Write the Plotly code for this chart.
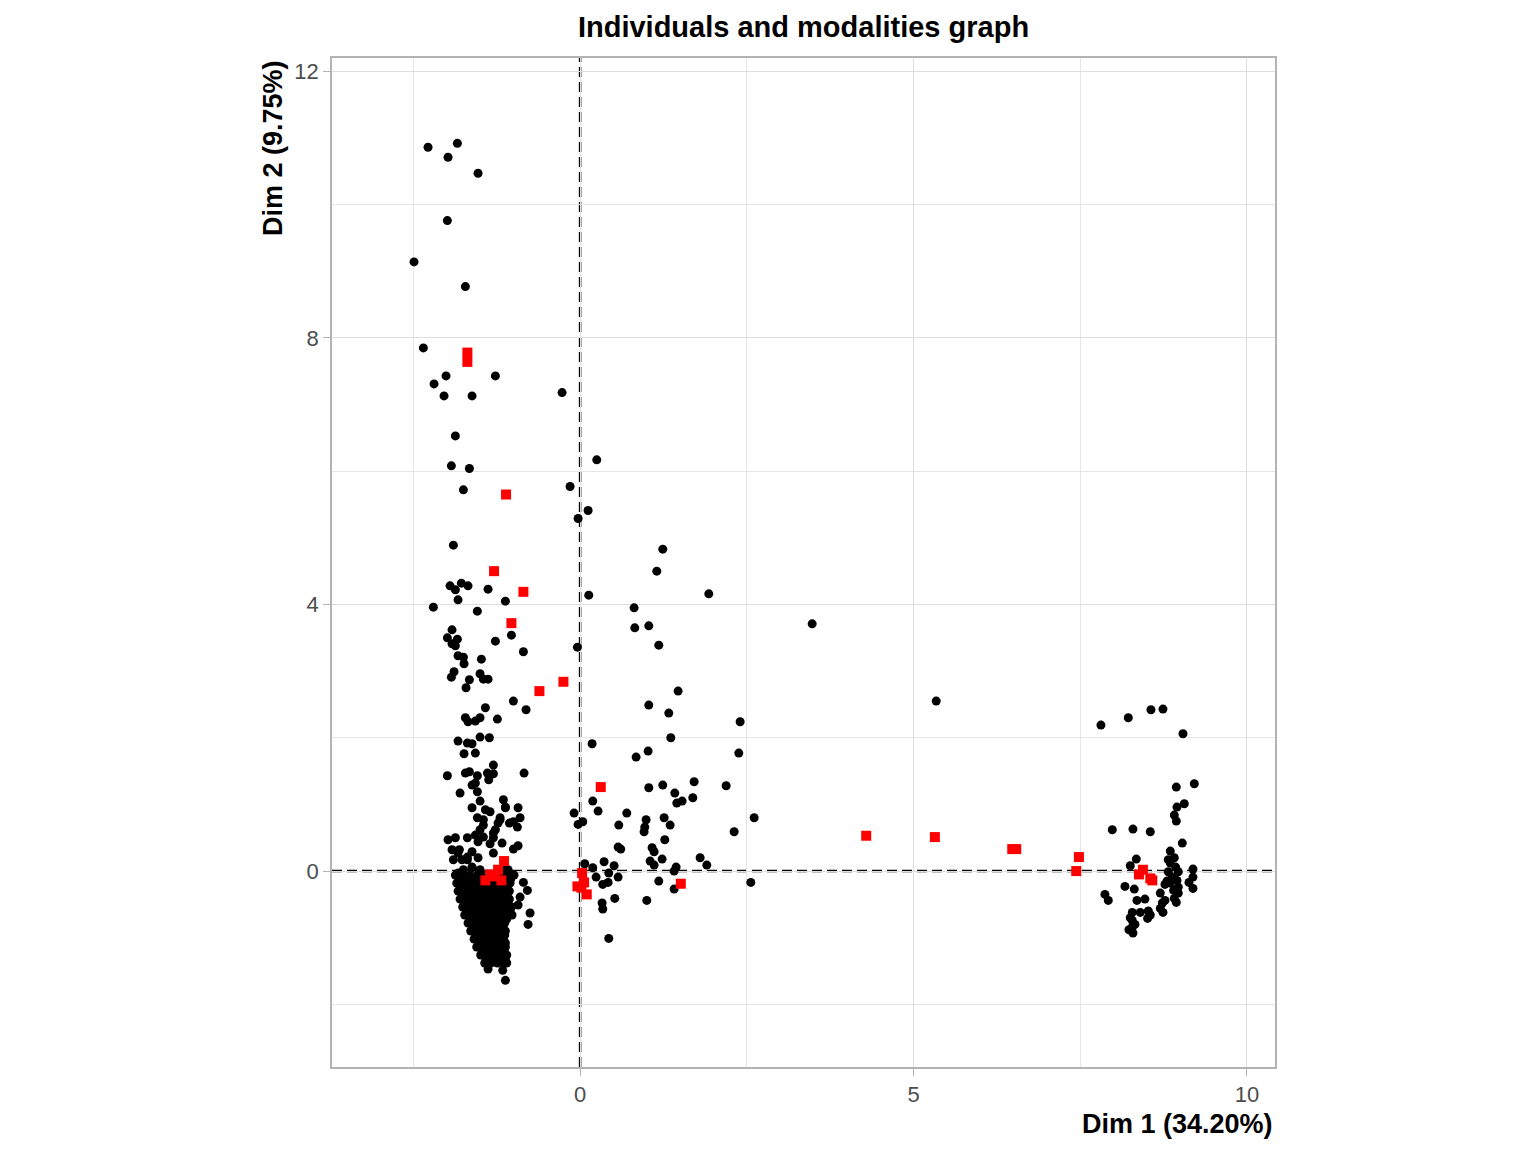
import plotly.graph_objects as go

# individuals, left group (upper part)
left_x = [-2.28, -1.84, -1.98, -1.53, -1.99, -2.49, -1.72, -2.35, -2.19, -2.01, -2.04, -1.62, -1.27,
          -1.87, -1.93, -1.66, -1.75, -1.90,
          -1.95, -1.87, -1.78, -1.68, -1.38, -1.83, -1.12, -2.20, -1.54, -1.92, -1.99, -1.84, -1.92,
          -1.87, -1.27, -1.03, -0.85, -1.83, -1.75, -1.74, -1.48, -1.89, -1.93, -1.66, -1.50, -1.45,
          -1.38, -1.71, -1.00, -0.81, -1.42, -1.72, -1.68, -1.57, -1.50, -1.24, -1.83, -1.69, -1.62,
          -1.50, -1.36, -1.74, -1.57, -1.30, -1.72, -1.66, -1.54, -1.39, -1.30, -1.99, -0.84,
          -1.62, -1.80, -1.54, -1.50, -1.15, -1.62, -1.42, -1.35, -1.12, -0.93, -1.54, -1.45, -1.27,
          -1.00, -0.94, -1.98, -1.87, -1.69, -1.53, -1.30, -1.17, -1.00, -0.93, -1.92, -1.83, -1.69,
          -1.62, -1.90, -1.77, -1.53, -1.83, -0.85, -0.79, -0.90, -0.93, -0.75, -0.78, -1.02, -1.12,
          -1.57, -1.37, -1.12, -1.45, -0.90, -1.20, -1.20, -1.06, -1.23, -1.50, -1.30, -1.57,
          -1.45, -1.35, -1.81, -1.30, -1.69, -1.62, -1.10, -1.75, -1.62, -1.50, -1.11, -1.08]
left_y = [10.86, 10.92, 10.71, 10.47, 9.76, 9.14, 8.77, 7.85, 7.31, 7.43, 7.13, 7.13, 7.43,
          6.53, 6.08, 6.04, 5.72, 4.89,
          4.28, 4.22, 4.32, 4.28, 4.23, 4.07, 4.05, 3.96, 3.90, 3.62, 3.50, 3.48, 3.41,
          3.38, 3.45, 3.54, 3.29, 3.23, 3.21, 3.11, 3.18, 2.99, 2.91, 2.87, 2.96, 2.88,
          2.88, 2.75, 2.55, 2.42, 2.45, 2.30, 2.24, 2.25, 2.30, 2.28, 1.95, 1.92, 1.91,
          2.01, 2.00, 1.76, 1.77, 1.59, 1.47, 1.49, 1.43, 1.47, 1.46, 1.43, 1.47,
          1.29, 1.17, 1.19, 1.05, 1.07, 0.95, 0.92, 0.89, 0.95, 0.95, 0.80, 0.69, 0.62,
          0.74, 0.66, 0.47, 0.50, 0.50, 0.44, 0.50, 0.42, 0.33, 0.38, 0.32, 0.27, 0.21,
          0.29, 0.17, 0.17, 0.20, -0.03, -0.17, -0.29, -0.39, -0.51, -0.63, -0.80, -0.66, -1.64,
          1.32, 1.37, 0.96, 0.77, 0.80, 0.80, 0.77, 0.72, 0.72, 0.62, 0.57, 0.54,
          0.51, 0.41, 0.32, 0.27, 0.17, 0.06, 0.02, 0.02, 0.05, 0.02, 0.02, 0.02]

# individuals, left group (dense lower part)
blob_x = [-1.87, -1.76, -1.65, -1.54, -1.43, -1.32, -1.21, -1.10, -0.99,
          -1.81, -1.70, -1.59, -1.48, -1.37, -1.26, -1.15, -1.04,
          -1.85, -1.74, -1.63, -1.52, -1.41, -1.30, -1.19, -1.05,
          -1.79, -1.68, -1.57, -1.46, -1.35, -1.24, -1.13,
          -1.83, -1.72, -1.61, -1.50, -1.39, -1.28, -1.17, -1.06,
          -1.77, -1.66, -1.55, -1.44, -1.33, -1.22, -1.11,
          -1.80, -1.69, -1.58, -1.47, -1.36, -1.25, -1.14, -1.06,
          -1.73, -1.62, -1.51, -1.40, -1.29, -1.18, -1.08,
          -1.76, -1.65, -1.54, -1.43, -1.32, -1.21, -1.10, -1.03,
          -1.70, -1.59, -1.48, -1.37, -1.26, -1.15, -1.05,
          -1.73, -1.62, -1.51, -1.40, -1.29, -1.18, -1.06,
          -1.65, -1.54, -1.43, -1.32, -1.21, -1.10,
          -1.68, -1.57, -1.46, -1.35, -1.24, -1.13,
          -1.61, -1.50, -1.39, -1.28, -1.17,
          -1.64, -1.53, -1.42, -1.31, -1.20, -1.12,
          -1.56, -1.45, -1.34, -1.23, -1.13,
          -1.59, -1.48, -1.37, -1.26, -1.15,
          -1.52, -1.41, -1.30, -1.19, -1.12,
          -1.55, -1.44, -1.33, -1.22, -1.12,
          -1.47, -1.36, -1.25, -1.14,
          -1.49, -1.39, -1.29, -1.19, -1.10,
          -1.41, -1.31, -1.21, -1.12,
          -1.43, -1.34, -1.24, -1.14, -1.10,
          -1.38, -1.16]
blob_y = [-0.06, -0.06, -0.06, -0.06, -0.06, -0.06, -0.06, -0.06, -0.06,
          -0.12, -0.12, -0.12, -0.12, -0.12, -0.12, -0.12, -0.12,
          -0.18, -0.18, -0.18, -0.18, -0.18, -0.18, -0.18, -0.18,
          -0.24, -0.24, -0.24, -0.24, -0.24, -0.24, -0.24,
          -0.30, -0.30, -0.30, -0.30, -0.30, -0.30, -0.30, -0.30,
          -0.36, -0.36, -0.36, -0.36, -0.36, -0.36, -0.36,
          -0.42, -0.42, -0.42, -0.42, -0.42, -0.42, -0.42, -0.42,
          -0.48, -0.48, -0.48, -0.48, -0.48, -0.48, -0.48,
          -0.54, -0.54, -0.54, -0.54, -0.54, -0.54, -0.54, -0.54,
          -0.60, -0.60, -0.60, -0.60, -0.60, -0.60, -0.60,
          -0.66, -0.66, -0.66, -0.66, -0.66, -0.66, -0.66,
          -0.72, -0.72, -0.72, -0.72, -0.72, -0.72,
          -0.78, -0.78, -0.78, -0.78, -0.78, -0.78,
          -0.84, -0.84, -0.84, -0.84, -0.84,
          -0.90, -0.90, -0.90, -0.90, -0.90, -0.90,
          -0.96, -0.96, -0.96, -0.96, -0.96,
          -1.02, -1.02, -1.02, -1.02, -1.02,
          -1.08, -1.08, -1.08, -1.08, -1.08,
          -1.14, -1.14, -1.14, -1.14, -1.14,
          -1.20, -1.20, -1.20, -1.20,
          -1.26, -1.26, -1.26, -1.26, -1.26,
          -1.32, -1.32, -1.32, -1.32,
          -1.38, -1.38, -1.38, -1.38, -1.38,
          -1.47, -1.49]

# individuals, middle group
mid_x = [-0.27, -0.15, 0.25, 0.12, -0.03, 1.24, 1.15, 0.13, 1.93, 0.81, 0.82, 1.03, -0.04, 1.18,
         1.47, 1.03, 1.33, 2.40, 1.36, 0.18, 1.02, 0.84, 2.38, 1.71, 2.19, 1.03, 1.24, 1.42,
         1.45, 1.53, 1.69, 0.19, 0.27, -0.09, 0.70, -0.03, 0.04, 2.61, 0.99, 0.97, 0.96, 1.26,
         1.35, 0.58, 2.31, 1.27, 0.57, 0.61, 1.08, 1.11, 1.80, 1.90, 1.23, 1.05, 1.11, 1.44,
         1.41, 0.36, 0.51, 0.07, 0.19, 0.24, 0.43, 0.57, 0.42, 0.34, 1.18, 1.41, 2.56, 0.52,
         1.00, 0.33, 0.34, 0.43, 3.48, 5.34]
mid_y = [7.18, 5.77, 6.17, 5.41, 5.29, 4.83, 4.50, 4.14, 4.16, 3.95, 3.65, 3.68, 3.36, 3.39,
         2.70, 2.49, 2.37, 2.24, 2.00, 1.91, 1.80, 1.71, 1.77, 1.34, 1.28, 1.25, 1.29, 1.17,
         1.02, 1.05, 1.10, 1.05, 0.90, 0.87, 0.87, 0.70, 0.74, 0.80, 0.77, 0.66, 0.59, 0.80,
         0.69, 0.69, 0.59, 0.47, 0.36, 0.33, 0.35, 0.29, 0.20, 0.09, 0.18, 0.15, 0.09, 0.06,
         0.00, 0.14, 0.08, 0.11, 0.05, -0.09, -0.03, -0.09, -0.17, -0.20, -0.15, -0.27, -0.17, -0.41,
         -0.44, -0.48, -0.57, -1.01, 3.71, 2.55]

# individuals, right group
right_x = [7.81, 8.22, 8.56, 8.74, 9.04, 9.21, 8.94, 9.06, 8.95, 8.91, 8.94, 7.98, 8.29, 8.55,
           9.03, 8.34, 8.25, 8.85, 8.91, 8.82, 8.85, 8.93, 8.82, 8.97, 8.88, 8.95, 8.85, 8.97,
           8.90, 8.97, 8.91, 8.94, 8.80, 8.77, 9.19, 9.19, 9.13, 9.19, 8.17, 8.31, 7.87, 7.92,
           8.35, 8.47, 8.70, 8.73, 8.77, 8.70, 8.74, 8.28, 8.40, 8.52, 8.51, 8.28, 8.28, 8.29,
           8.23, 8.25, 8.32, 8.55]
right_y = [2.19, 2.30, 2.42, 2.43, 2.06, 1.31, 1.26, 1.01, 0.96, 0.84, 0.75, 0.62, 0.63, 0.59,
           0.42, 0.18, 0.08, 0.30, 0.20, 0.17, 0.12, 0.06, -0.01, -0.01, -0.09, -0.14, -0.18, -0.24,
           -0.29, -0.33, -0.41, -0.47, -0.15, -0.20, 0.03, -0.09, -0.17, -0.26, -0.23, -0.27, -0.35, -0.44,
           -0.44, -0.42, -0.33, -0.48, -0.44, -0.56, -0.62, -0.62, -0.62, -0.60, -0.71, -0.74, -0.84, -0.93,
           -0.88, -0.70, -0.80, -0.66]

# modalities
mod_x = [-1.69, -1.69, -1.11, -1.29, -0.85, -1.03, -0.61, -0.25, 0.31, 4.29, 5.32, 6.48, 6.54,
         7.48, 7.44, 8.38, 8.44, 8.55, 8.58, 0.03, 0.06, -0.04, 0.10, 0.02, 1.51,
         -1.14, -1.23, -1.35, -1.42, -1.18, -1.28]
mod_y = [7.78, 7.64, 5.65, 4.50, 4.19, 3.72, 2.70, 2.84, 1.26, 0.53, 0.51, 0.33, 0.33,
         0.21, 0.00, -0.05, 0.02, -0.11, -0.14, -0.03, -0.17, -0.23, -0.35, -0.25, -0.19,
         0.15, 0.02, -0.05, -0.14, -0.14, -0.08]

ind_x = left_x + blob_x + mid_x + right_x
ind_y = left_y + blob_y + mid_y + right_y

font_name = "Liberation Sans, Arial, sans-serif"

fig = go.Figure()
fig.add_scatter(x=ind_x, y=ind_y, mode="markers", name="individuals",
                marker=dict(color="black", size=9, symbol="circle"))
fig.add_scatter(x=mod_x, y=mod_y, mode="markers", name="modalities",
                marker=dict(color="red", size=10, symbol="square"))

# dashed lines through the origin
fig.add_shape(type="line", xref="x", yref="paper", x0=0, x1=0, y0=0, y1=1,
              line=dict(color="black", width=2.5, dash="10px,5px"), layer="between")
fig.add_shape(type="line", xref="paper", yref="y", x0=0, x1=1, y0=0, y1=0,
              line=dict(color="black", width=2.5, dash="10px,5px"), layer="between")

axis_style = dict(showline=True, mirror=True, linecolor="#B3B3B3", linewidth=1.5,
                  showgrid=True, gridcolor="#DEDEDE", gridwidth=1.2, zeroline=False,
                  ticks="outside", ticklen=7, tickcolor="#B3B3B3", tickwidth=1.2,
                  tickfont=dict(family=font_name, size=22, color="#4D4D4D"))

fig.update_xaxes(range=[-3.72, 10.42], tick0=0, dtick=5,
                 minor=dict(dtick=2.5, showgrid=True, gridcolor="#E6E6E6", gridwidth=0.7, ticks=""),
                 **axis_style)
fig.update_yaxes(range=[-2.94, 12.2], tick0=0, dtick=4,
                 minor=dict(dtick=2, showgrid=True, gridcolor="#E6E6E6", gridwidth=0.7, ticks=""),
                 **axis_style)

fig.add_annotation(text="<b>Dim 1 (34.20%)</b>", xref="paper", yref="paper", x=1, y=-0.0565,
                   xanchor="right", yanchor="middle", showarrow=False,
                   font=dict(family=font_name, size=27, color="black"))
fig.add_annotation(text="<b>Dim 2 (9.75%)</b>", xref="paper", yref="paper", x=-0.0626, y=1,
                   xanchor="center", yanchor="top", textangle=-90, showarrow=False,
                   font=dict(family=font_name, size=27, color="black"))

# page body adds 8px, so the figure is drawn slightly smaller
fig.update_layout(
    width=1528, height=1144, autosize=False,
    margin=dict(l=324, r=261, t=50, b=85),
    paper_bgcolor="white", plot_bgcolor="white",
    showlegend=False,
    title=dict(text="<b>Individuals and modalities graph</b>", x=0.5, xref="paper",
               y=1 - 19 / 1144, yref="container", xanchor="center", yanchor="middle",
               font=dict(family=font_name, size=29, color="black")),
)

fig.write_html("out.html")
